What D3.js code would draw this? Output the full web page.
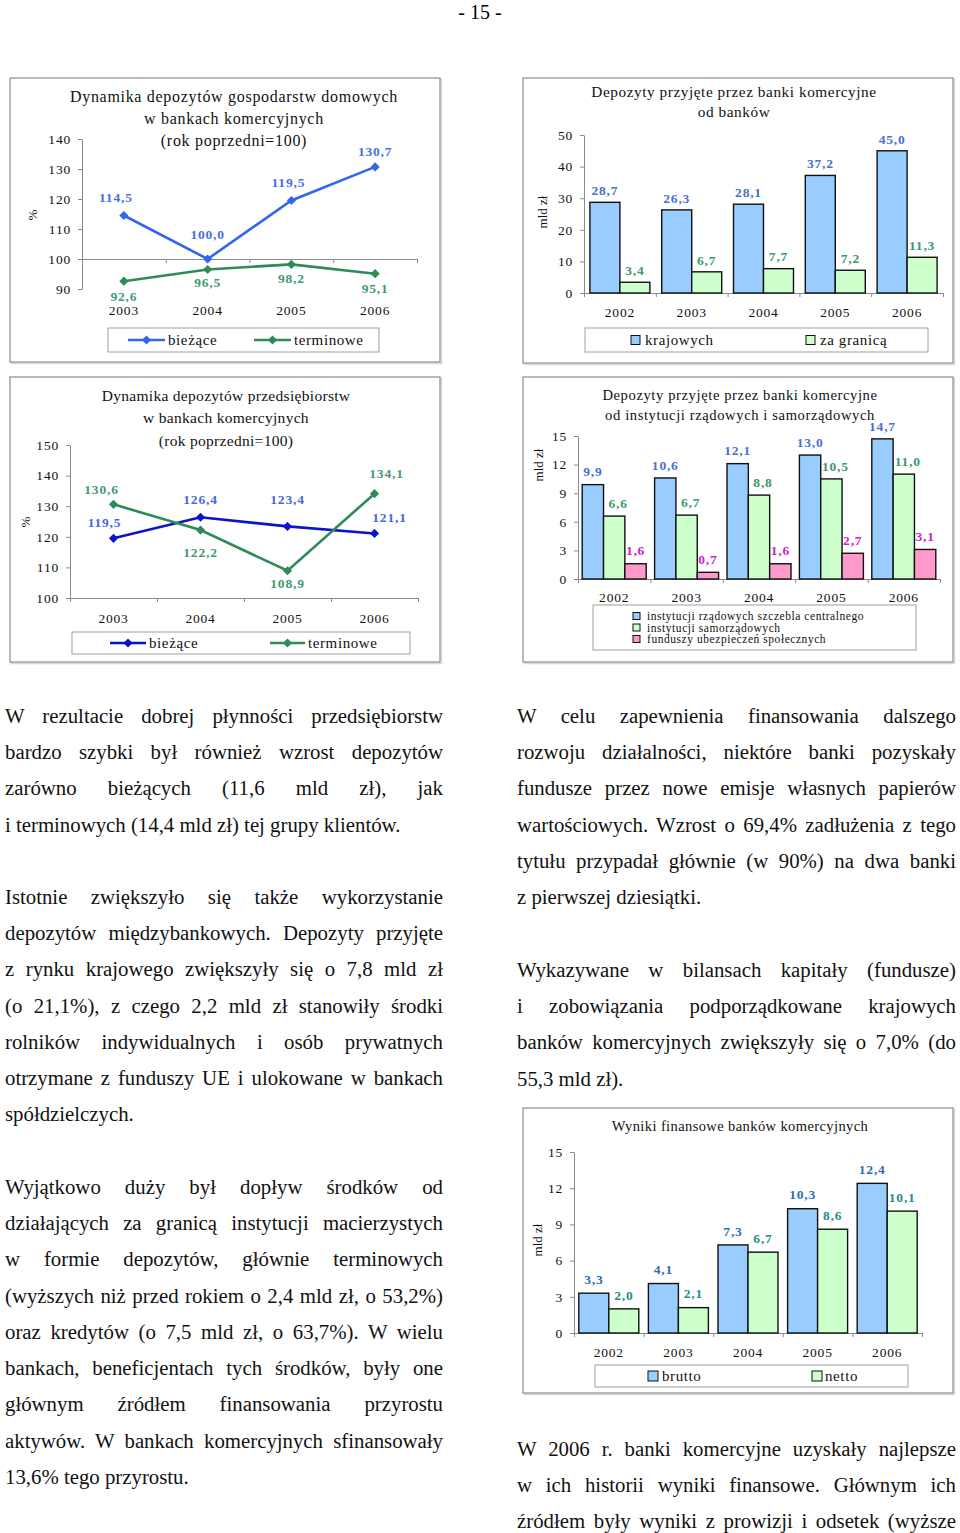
<!DOCTYPE html>
<html><head><meta charset="utf-8">
<script src="https://cdn.jsdelivr.net/npm/d3@7"></script>
<style>
body{margin:0;background:#fff;}
#page{position:relative;width:960px;height:1533px;overflow:hidden;background:#fff;}
svg{position:absolute;left:0;top:0;}
.para{position:absolute;font-family:'Liberation Serif','Times New Roman',serif;font-size:20.8px;color:#111;}
.ln{height:36.24px;line-height:36.24px;white-space:nowrap;text-align:justify;text-align-last:justify;}
.ln.last{text-align-last:left;}
.hdr{position:absolute;left:0;width:960px;top:0;text-align:center;font-family:'Liberation Serif',serif;font-size:20px;line-height:24px;}
</style></head><body><div id="page"></div>
<script>
// ---------------- DATA ----------------
const yearsLine = ['2003','2004','2005','2006'];
const yearsBar  = ['2002','2003','2004','2005','2006'];

const hhCurrent = [114.5, 100.0, 119.5, 130.7];
const hhTerm    = [92.6, 96.5, 98.2, 95.1];
const hhTicks   = [90, 100, 110, 120, 130, 140];

const entCurrent = [119.5, 126.4, 123.4, 121.1];
const entTerm    = [130.6, 122.2, 108.9, 134.1];
const entTicks   = [100, 110, 120, 130, 140, 150];

const interDomestic = [28.7, 26.3, 28.1, 37.2, 45.0];
const interForeign  = [3.4, 6.7, 7.7, 7.2, 11.3];
const interTicks    = [0, 10, 20, 30, 40, 50];

const govCentral = [9.9, 10.6, 12.1, 13.0, 14.7];
const govLocal   = [6.6, 6.7, 8.8, 10.5, 11.0];
const govSocial  = [1.6, 0.7, 1.6, 2.7, 3.1];
const govTicks   = [0, 3, 6, 9, 12, 15];

const profitGross = [3.3, 4.1, 7.3, 10.3, 12.4];
const profitNet   = [2.0, 2.1, 6.7, 8.6, 10.1];
const profitTicks = [0, 3, 6, 9, 12, 15];

const leftText = [
  ["W rezultacie dobrej płynności przedsiębiorstw",
   "bardzo szybki był również wzrost depozytów",
   "zarówno bieżących (11,6 mld zł), jak",
   "i terminowych (14,4 mld zł) tej grupy klientów."],
  ["Istotnie zwiększyło się także wykorzystanie",
   "depozytów międzybankowych. Depozyty przyjęte",
   "z rynku krajowego zwiększyły się o 7,8 mld zł",
   "(o 21,1%), z czego 2,2 mld zł stanowiły środki",
   "rolników indywidualnych i osób prywatnych",
   "otrzymane z funduszy UE i ulokowane w bankach",
   "spółdzielczych."],
  ["Wyjątkowo duży był dopływ środków od",
   "działających za granicą instytucji macierzystych",
   "w formie depozytów, głównie terminowych",
   "(wyższych niż przed rokiem o 2,4 mld zł, o 53,2%)",
   "oraz kredytów (o 7,5 mld zł, o 63,7%). W wielu",
   "bankach, beneficjentach tych środków, były one",
   "głównym źródłem finansowania przyrostu",
   "aktywów. W bankach komercyjnych sfinansowały",
   "13,6% tego przyrostu."]
];
const rightText = [
  ["W celu zapewnienia finansowania dalszego",
   "rozwoju działalności, niektóre banki pozyskały",
   "fundusze przez nowe emisje własnych papierów",
   "wartościowych. Wzrost o 69,4% zadłużenia z tego",
   "tytułu przypadał głównie (w 90%) na dwa banki",
   "z pierwszej dziesiątki."],
  ["Wykazywane w bilansach kapitały (fundusze)",
   "i zobowiązania podporządkowane krajowych",
   "banków komercyjnych zwiększyły się o 7,0% (do",
   "55,3 mld zł)."],
  ["W 2006 r. banki komercyjne uzyskały najlepsze",
   "w ich historii wyniki finansowe. Głównym ich",
   "źródłem były wyniki z prowizji i odsetek (wyższe"]
];

// ---------------- LAYOUT / RENDER ----------------
const SERIF = "'Liberation Serif','Times New Roman',serif";
const fmt = v => d3.format('.1f')(v).replace('.', ',');
const page = d3.select('#page');
page.append('div').attr('class','hdr').style('top','0px').text('- 15 -');

function paragraphs(left, width, tops, paras, lastJustified) {
  paras.forEach((lines, pi) => {
    const p = page.append('div').attr('class','para')
      .style('left', left + 'px').style('top', tops[pi] + 'px').style('width', width + 'px');
    lines.forEach((t, i) => {
      const last = i === lines.length - 1 && !(lastJustified && pi === paras.length - 1);
      p.append('div').attr('class', 'ln' + (last ? ' last' : '')).text(t);
    });
  });
}
paragraphs(5, 438, [698, 879, 1169], leftText, false);
paragraphs(517, 439, [698, 952, 1431], rightText, true);

const svg = page.append('svg').attr('width', 960).attr('height', 1533);

function frame(x, y, w, h) {
  svg.append('rect').attr('x', x + 1.5).attr('y', y + 1.5).attr('width', w).attr('height', h)
    .attr('fill', 'none').attr('stroke', '#d8d8d8').attr('stroke-width', 1.5);
  svg.append('rect').attr('x', x).attr('y', y).attr('width', w).attr('height', h)
    .attr('fill', '#fff').attr('stroke', '#8c8c8c').attr('stroke-width', 1.2);
}
function title(cx, ys, lines, size, ls) {
  lines.forEach((t, i) => svg.append('text').attr('x', cx).attr('y', ys[i])
    .attr('text-anchor', 'middle').style('font-family', SERIF).style('font-size', size + 'px')
    .style('letter-spacing', ls + 'px').attr('fill', '#111').text(t));
}
function yLabel(x, y, t) {
  svg.append('text').attr('transform', `translate(${x},${y}) rotate(-90)`).attr('text-anchor', 'middle')
    .attr('dy', '0.35em').style('font-family', SERIF).style('font-size', '13px').attr('fill', '#111').text(t);
}
function styleAxis(g) {
  g.selectAll('path,line').attr('stroke', '#8a8a8a').attr('stroke-width', 1);
  g.selectAll('text').style('font-family', SERIF).style('font-size', '13.5px').attr('fill', '#111')
    .style('letter-spacing', '0.8px');
}
function yAxis(y, x0, ticks) {
  const g = svg.append('g').attr('transform', `translate(${x0},0)`)
    .call(d3.axisLeft(y).tickValues(ticks).tickSize(4).tickSizeOuter(0).tickPadding(7).tickFormat(d3.format('d')));
  styleAxis(g);
}
function xAxisLine(n, left, right, yPos) {
  const xi = d3.scaleLinear().domain([0, n]).range([left, right]);
  const g = svg.append('g').attr('transform', `translate(0,${yPos})`)
    .call(d3.axisBottom(xi).tickValues(d3.range(n + 1)).tickFormat('').tickSize(4).tickSizeOuter(0));
  styleAxis(g);
}
function catLabels(x, cats, yPos) {
  svg.append('g').selectAll('text').data(cats).join('text')
    .attr('x', d => x(d) + x.bandwidth() / 2).attr('y', yPos).attr('dy', '0.35em')
    .attr('text-anchor', 'middle').style('font-family', SERIF).style('font-size', '13.5px')
    .style('letter-spacing', '0.8px').attr('fill', '#111').text(d => d);
}
const diamond = d3.symbol(d3.symbolSquare, 42);

function lineChart(c) {
  frame(c.frame[0], c.frame[1], c.frame[2], c.frame[3]);
  title(c.titleX, c.titleY, c.title, c.titleSize, c.titleLs);
  yLabel(c.yLab[0], c.yLab[1], c.yLabText);
  const x = d3.scaleBand().domain(c.cats).range([c.left, c.right]);
  const y = d3.scaleLinear().domain(c.domain).range([c.bottom, c.top]);
  yAxis(y, c.left, c.ticks);
  xAxisLine(c.cats.length, c.left, c.right, y(c.cross));
  catLabels(x, c.cats, c.catY);
  const cx = i => x(c.cats[i]) + x.bandwidth() / 2;
  c.series.forEach(s => {
    svg.append('path').datum(s.values).attr('fill', 'none').attr('stroke', s.color).attr('stroke-width', 2.6)
      .attr('d', d3.line().x((d, i) => cx(i)).y(d => y(d)));
    svg.append('g').selectAll('path').data(s.values).join('path')
      .attr('transform', (d, i) => `translate(${cx(i)},${y(d)}) rotate(45)`).attr('d', diamond).attr('fill', s.color);
    svg.append('g').selectAll('text').data(s.values).join('text')
      .attr('x', (d, i) => cx(i) + s.off[i][0]).attr('y', (d, i) => y(d) + s.off[i][1]).attr('dy', '0.35em')
      .attr('text-anchor', 'middle').style('font-family', SERIF).style('font-size', '13.5px').style('font-weight', 'bold')
      .style('letter-spacing', '0.8px').attr('fill', s.labelColor).text(d => fmt(d));
  });
  const L = c.legend;
  svg.append('rect').attr('x', L.box[0]).attr('y', L.box[1]).attr('width', L.box[2]).attr('height', L.box[3])
    .attr('fill', '#fff').attr('stroke', '#a0a0a0').attr('stroke-width', 1);
  c.series.forEach((s, i) => {
    const it = L.items[i], ly = L.box[1] + L.box[3] / 2;
    svg.append('line').attr('x1', it[0]).attr('x2', it[1]).attr('y1', ly).attr('y2', ly).attr('stroke', s.color).attr('stroke-width', 2.6);
    svg.append('path').attr('transform', `translate(${(it[0] + it[1]) / 2},${ly}) rotate(45)`).attr('d', diamond).attr('fill', s.color);
    svg.append('text').attr('x', it[1] + 3).attr('y', ly).attr('dy', '0.35em').style('font-family', SERIF)
      .style('font-size', '15px').style('letter-spacing', '0.6px').attr('fill', '#111').text(s.name);
  });
}

function barChart(c) {
  frame(c.frame[0], c.frame[1], c.frame[2], c.frame[3]);
  title(c.titleX, c.titleY, c.title, c.titleSize, c.titleLs);
  yLabel(c.yLab[0], c.yLab[1], c.yLabText);
  const x = d3.scaleBand().domain(c.cats).range([c.left, c.right]);
  const y = d3.scaleLinear().domain(c.domain).range([c.bottom, c.top]);
  const inset = (x.bandwidth() - c.groupW) / 2;
  const xs = d3.scaleBand().domain(d3.range(c.series.length)).range([inset, inset + c.groupW]);
  yAxis(y, c.left, c.ticks);
  xAxisLine(c.cats.length, c.left, c.right, y(0));
  catLabels(x, c.cats, c.catY);
  c.series.forEach((s, si) => {
    svg.append('g').selectAll('rect').data(s.values).join('rect')
      .attr('x', (d, i) => x(c.cats[i]) + xs(si)).attr('width', xs.bandwidth())
      .attr('y', d => y(d)).attr('height', d => y(0) - y(d))
      .attr('fill', s.color).attr('stroke', '#111').attr('stroke-width', 1.4);
    svg.append('g').selectAll('text').data(s.values).join('text')
      .attr('x', (d, i) => x(c.cats[i]) + xs(si) + xs.bandwidth() / 2 + (s.dx || 0))
      .attr('y', d => y(d) - c.labelGap).attr('dy', '0.35em')
      .attr('text-anchor', 'middle').style('font-family', SERIF).style('font-size', '13.5px').style('font-weight', 'bold')
      .style('letter-spacing', '0.8px').attr('fill', s.labelColor).text(d => fmt(d));
  });
  const L = c.legend;
  svg.append('rect').attr('x', L.box[0]).attr('y', L.box[1]).attr('width', L.box[2]).attr('height', L.box[3])
    .attr('fill', '#fff').attr('stroke', '#a0a0a0').attr('stroke-width', 1);
  c.series.forEach((s, i) => {
    const it = L.items[i];
    svg.append('rect').attr('x', it[0]).attr('y', it[1] - L.sw / 2).attr('width', L.sw).attr('height', L.sw)
      .attr('fill', s.color).attr('stroke', '#111').attr('stroke-width', 1);
    svg.append('text').attr('x', it[2]).attr('y', it[1]).attr('dy', '0.35em').style('font-family', SERIF)
      .style('font-size', L.size + 'px').style('letter-spacing', L.ls + 'px').attr('fill', '#111').text(s.name);
  });
}

// Chart 1
lineChart({
  frame: [10, 78, 430, 284],
  title: ['Dynamika depozytów gospodarstw domowych', 'w bankach komercyjnych', '(rok poprzedni=100)'],
  titleX: 234, titleY: [102, 124, 146], titleSize: 16, titleLs: 0.7,
  yLab: [32, 215], yLabText: '%',
  cats: yearsLine, left: 82, right: 417, top: 139, bottom: 289, domain: [90, 140], ticks: hhTicks, cross: 100, catY: 310,
  series: [
    {name: 'bieżące', values: hhCurrent, color: '#3366f0', labelColor: '#4a6fe0', off: [[-8,-18],[0,-25],[-3,-18],[0,-16]]},
    {name: 'terminowe', values: hhTerm, color: '#2e8b57', labelColor: '#3f9a70', off: [[0,15],[0,13],[0,14],[0,15]]}
  ],
  legend: {box: [108, 328, 271, 24], items: [[128, 165], [254, 291]]}
});

// Chart 3
lineChart({
  frame: [10, 377, 430, 285],
  title: ['Dynamika depozytów przedsiębiorstw', 'w bankach komercyjnych', '(rok poprzedni=100)'],
  titleX: 226, titleY: [401, 423, 446], titleSize: 15.5, titleLs: 0.3,
  yLab: [25, 522], yLabText: '%',
  cats: yearsLine, left: 70, right: 418, top: 445, bottom: 598, domain: [100, 150], ticks: entTicks, cross: 100, catY: 618,
  series: [
    {name: 'bieżące', values: entCurrent, color: '#0a14c8', labelColor: '#4a66dd', off: [[-9,-16],[0,-18],[0,-27],[15,-16]]},
    {name: 'terminowe', values: entTerm, color: '#2e8b57', labelColor: '#3f9a70', off: [[-12,-15],[0,22],[0,13],[12,-20]]}
  ],
  legend: {box: [72, 632, 338, 22], items: [[110, 146], [270, 305]]}
});

// Chart 2
barChart({
  frame: [523, 78, 430, 285],
  title: ['Depozyty przyjęte przez banki komercyjne', 'od banków'],
  titleX: 734, titleY: [97, 117], titleSize: 15.3, titleLs: 0.55,
  yLab: [542, 212], yLabText: 'mld zł',
  cats: yearsBar, left: 584, right: 943, top: 135, bottom: 293, domain: [0, 50], ticks: interTicks, catY: 312,
  groupW: 60, labelGap: 12,
  series: [
    {name: 'krajowych', values: interDomestic, color: '#99ccff', labelColor: '#4a6fd0'},
    {name: 'za granicą', values: interForeign, color: '#ccffcc', labelColor: '#3a9a6a'}
  ],
  legend: {box: [585, 328, 343, 24], sw: 9, size: 15, ls: 0.6, items: [[631, 340, 645], [806, 340, 820]]}
});

// Chart 4
barChart({
  frame: [523, 377, 430, 285],
  title: ['Depozyty przyjęte przez banki komercyjne', 'od instytucji rządowych i samorządowych'],
  titleX: 740, titleY: [400, 420], titleSize: 14.6, titleLs: 0.6,
  yLab: [538, 465], yLabText: 'mld zł',
  cats: yearsBar, left: 578, right: 940, top: 436, bottom: 579, domain: [0, 15], ticks: govTicks, catY: 597,
  groupW: 64, labelGap: 13,
  series: [
    {name: 'instytucji rządowych szczebla centralnego', values: govCentral, color: '#99ccff', labelColor: '#4a6fd0'},
    {name: 'instytucji samorządowych', values: govLocal, color: '#ccffcc', labelColor: '#3a9a6a', dx: 4},
    {name: 'funduszy  ubezpieczeń społecznych', values: govSocial, color: '#ff99cc', labelColor: '#cc22cc'}
  ],
  legend: {box: [593, 605, 323, 45], sw: 7, size: 11.5, ls: 0.55, items: [[633, 616, 647], [633, 627.5, 647], [633, 639, 647]]}
});

// Chart 5
barChart({
  frame: [523, 1108, 430, 285],
  title: ['Wyniki finansowe banków komercyjnych'],
  titleX: 740, titleY: [1131], titleSize: 14.5, titleLs: 0.4,
  yLab: [537, 1240], yLabText: 'mld zł',
  cats: yearsBar, left: 574, right: 922, top: 1152, bottom: 1333, domain: [0, 15], ticks: profitTicks, catY: 1352,
  groupW: 60, labelGap: 14,
  series: [
    {name: 'brutto', values: profitGross, color: '#99ccff', labelColor: '#2e6db4'},
    {name: 'netto', values: profitNet, color: '#ccffcc', labelColor: '#2a8c8c'}
  ],
  legend: {box: [595, 1365, 313, 22], sw: 10, size: 15, ls: 0.6, items: [[648, 1376, 662], [812, 1376, 825]]}
});
</script></body></html>
